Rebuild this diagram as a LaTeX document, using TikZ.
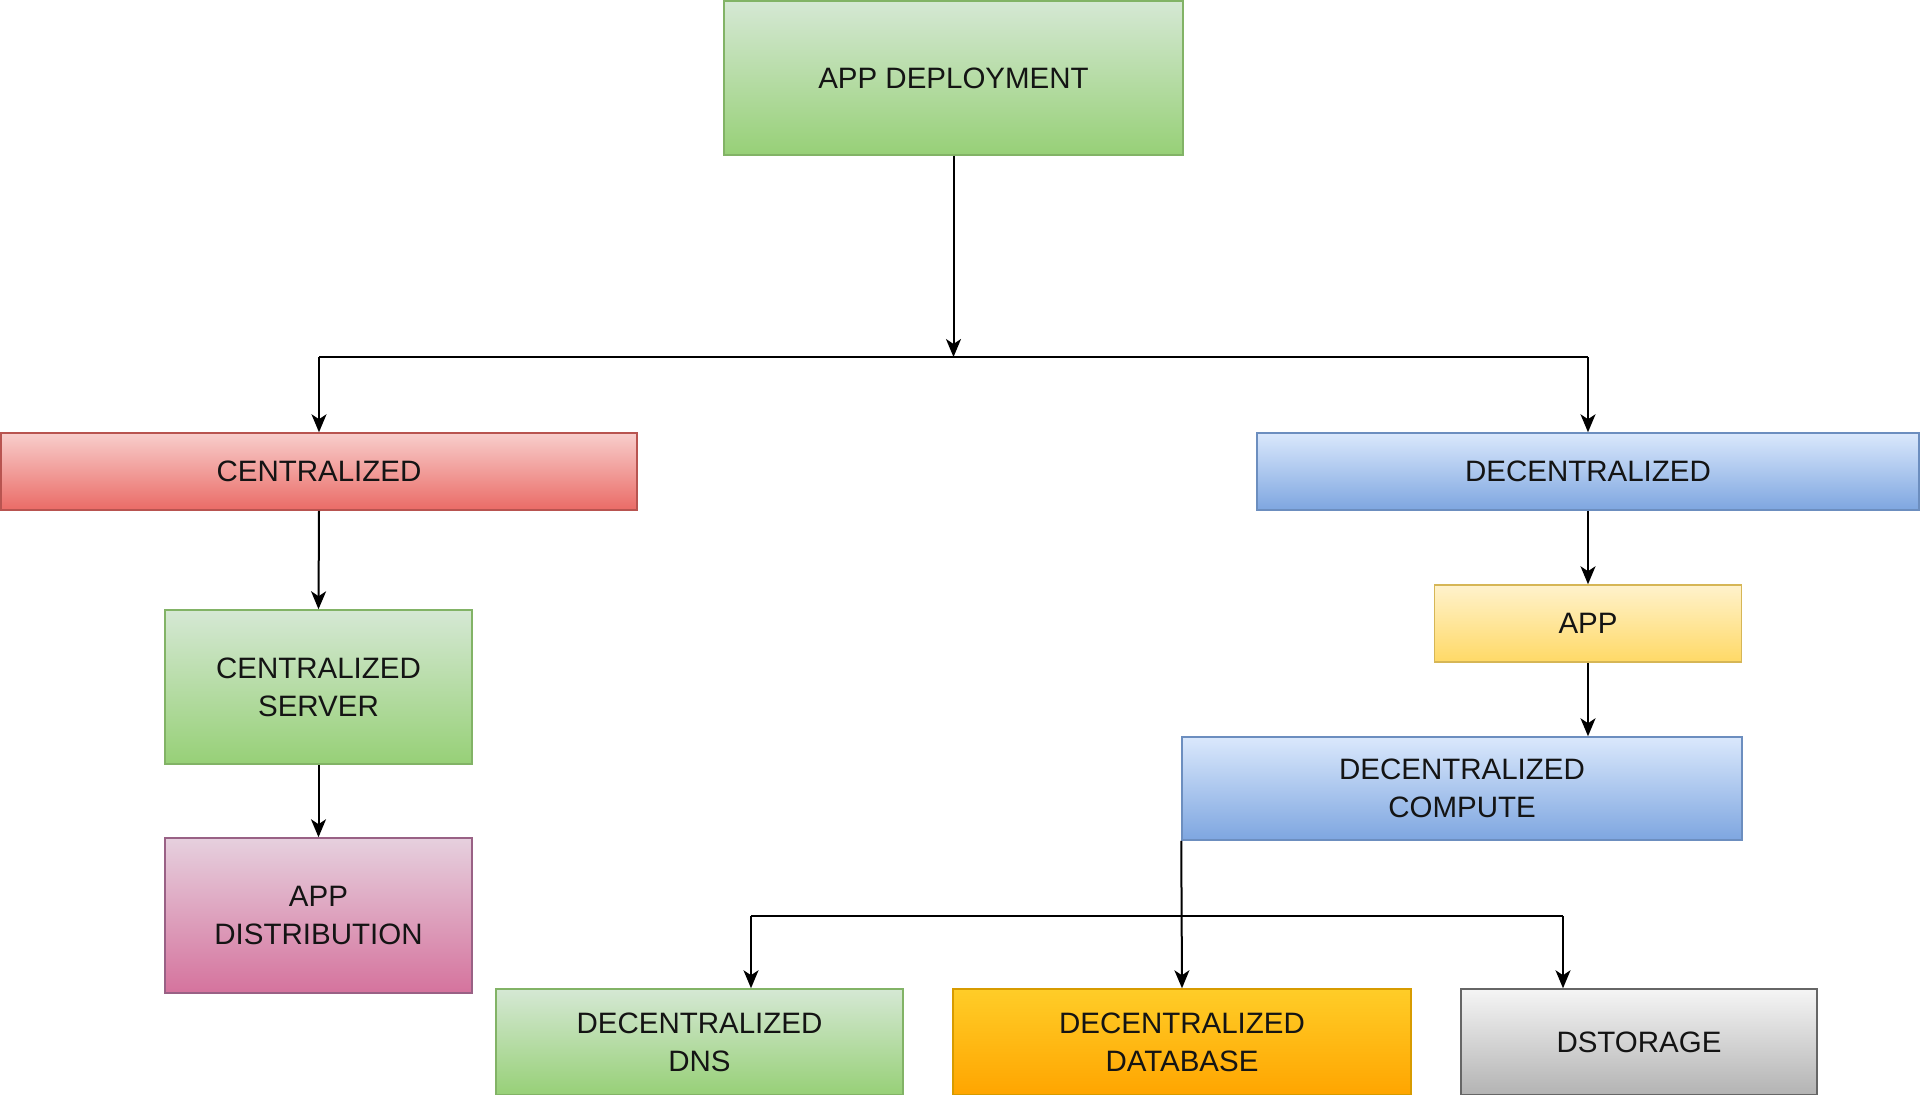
\documentclass[tikz,border=0pt]{standalone}
\usepackage{fontspec}
\setmainfont{Liberation Sans}
\usetikzlibrary{arrows.meta}
\definecolor{gA}{HTML}{D5E8D4}\definecolor{gB}{HTML}{97D077}\definecolor{gS}{HTML}{82B366}
\definecolor{rA}{HTML}{F8CECC}\definecolor{rB}{HTML}{EA6B66}\definecolor{rS}{HTML}{B85450}
\definecolor{bA}{HTML}{DAE8FC}\definecolor{bB}{HTML}{7EA6E0}\definecolor{bS}{HTML}{6C8EBF}
\definecolor{yA}{HTML}{FFF2CC}\definecolor{yB}{HTML}{FFD966}\definecolor{yS}{HTML}{D6B656}
\definecolor{pA}{HTML}{E6D0DE}\definecolor{pB}{HTML}{D5739D}\definecolor{pS}{HTML}{996185}
\definecolor{oA}{HTML}{FFCD28}\definecolor{oB}{HTML}{FFA500}\definecolor{oS}{HTML}{D79B00}
\definecolor{sA}{HTML}{F5F5F5}\definecolor{sB}{HTML}{B3B3B3}\definecolor{sS}{HTML}{666666}
\begin{document}
\begin{tikzpicture}[x=1pt,y=-1pt,
  box/.style={draw, line width=1.5pt, inner sep=0pt, align=center,
    font=\fontsize{29.5}{38}\selectfont, text=black!92},
  oneline/.style={text depth=0pt},
  greenbox/.style={box, top color=gA, bottom color=gB, draw=gS},
  redbox/.style={box, top color=rA, bottom color=rB, draw=rS},
  bluebox/.style={box, top color=bA, bottom color=bB, draw=bS},
  yellowbox/.style={box, top color=yA, bottom color=yB, draw=yS},
  pinkbox/.style={box, top color=pA, bottom color=pB, draw=pS},
  orangebox/.style={box, top color=oA, bottom color=oB, draw=oS},
  graybox/.style={box, top color=sA, bottom color=sB, draw=sS},
  conn/.style={draw=black, line width=2pt, -{Stealth[length=18pt,width=15pt,inset=5pt]}},
  bus/.style={draw=black, line width=2pt}
]
\useasboundingbox (0,0) rectangle (1920,1095);

\node[greenbox, oneline, minimum width=459pt, minimum height=154pt] (dep) at (953.5,78) {APP DEPLOYMENT};
\node[redbox, oneline, minimum width=636pt, minimum height=77pt] (cen) at (319,471.5) {CENTRALIZED};
\node[bluebox, oneline, minimum width=662pt, minimum height=77pt] (dec) at (1588,471.5) {DECENTRALIZED};
\node[greenbox, minimum width=307pt, minimum height=154pt] (srv) at (318.5,687) {CENTRALIZED\\SERVER};
\node[pinkbox, minimum width=307pt, minimum height=155pt] (dist) at (318.5,915.5) {APP\\DISTRIBUTION};
\node[yellowbox, oneline, minimum width=307pt, minimum height=77pt] (app) at (1588,623.5) {APP};
\node[bluebox, minimum width=560pt, minimum height=103pt] (comp) at (1462,788.5) {DECENTRALIZED\\COMPUTE};
\node[greenbox, minimum width=407pt, minimum height=106pt] (dns) at (699.5,1042) {DECENTRALIZED\\DNS};
\node[orangebox, minimum width=458pt, minimum height=106pt] (db) at (1182,1042) {DECENTRALIZED\\DATABASE};
\node[graybox, oneline, minimum width=356pt, minimum height=106pt] (dsto) at (1639,1042) {DSTORAGE};

\coordinate (busL) at (cen.north |- 0,357);
\coordinate (busM) at (dep.south |- 0,357);
\coordinate (busR) at (dec.north |- 0,357);
\coordinate (bus2L) at (751,916);
\coordinate (bus2R) at (1563,916);

\path[conn] (dep.south) -- (busM);
\path[bus] (busL) -- (busR);
\path[conn] (busL) -- (cen.north);
\path[conn] (busR) -- (dec.north);
\path[conn] (cen.south) -- (srv.north);
\path[conn] (srv.south) -- (dist.north);
\path[conn] (dec.south) -- (app.north);
\path[conn] (app.south) -- (app.south |- comp.north);
\path[conn] (comp.south west) -- (db.north);
\path[bus] (bus2L) -- (bus2R);
\path[conn] (bus2L) -- (bus2L |- dns.north);
\path[conn] (bus2R) -- (bus2R |- dsto.north);
\end{tikzpicture}
\end{document}
